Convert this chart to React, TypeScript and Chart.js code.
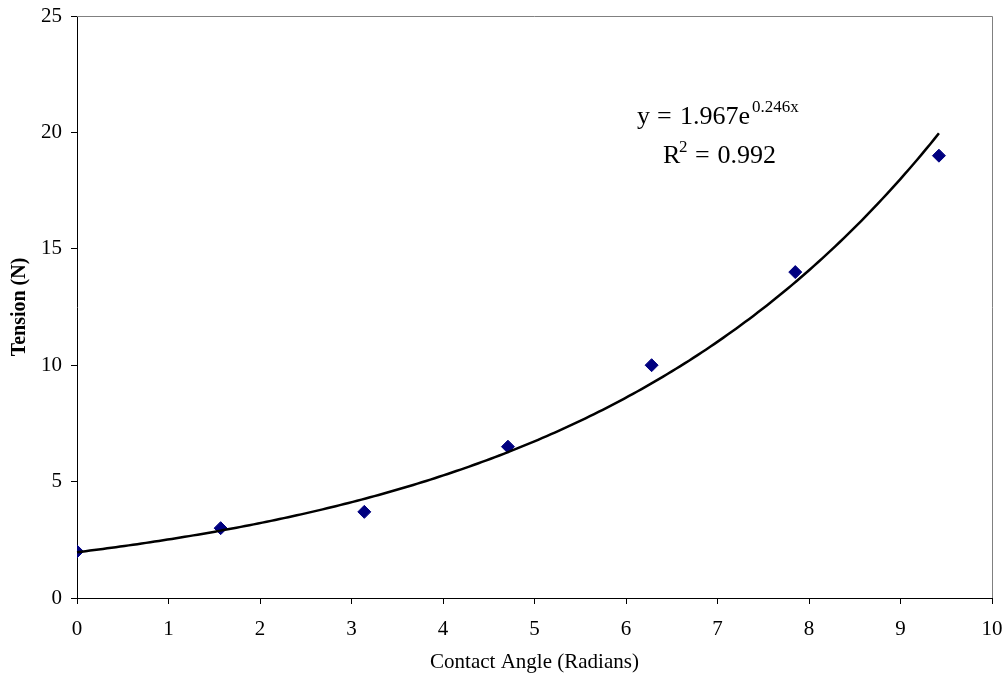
import React, { useEffect, useRef } from "react";
import { Chart, registerables } from "chart.js";

Chart.register(...registerables);

// Data
const contactAngles: number[] = [0, 1.57, 3.14, 4.71, 6.28, 7.85, 9.42];
const tensions: number[] = [2, 3, 3.7, 6.5, 10, 14, 19];

// Exponential trendline as printed on the chart: y = a * e^(b x)
const trendA = 1.967;
const trendB = 0.246;
const trendR2 = "0.992";

const xTitle = "Contact Angle (Radians)";
const yTitle = "Tension (N)";

const SERIF = '"Liberation Serif", "Times New Roman", serif';

export default function App() {
  const canvasRef = useRef<HTMLCanvasElement | null>(null);

  useEffect(() => {
    const canvas = canvasRef.current;
    if (!canvas) return;

    const framePlugin = {
      id: "frame",
      afterDraw(chart: any) {
        const { ctx, chartArea } = chart;
        ctx.save();
        ctx.strokeStyle = "#808080";
        ctx.lineWidth = 1;
        ctx.beginPath();
        ctx.moveTo(chartArea.left, chartArea.top + 0.5);
        ctx.lineTo(chartArea.right + 0.5, chartArea.top + 0.5);
        ctx.lineTo(chartArea.right + 0.5, chartArea.bottom);
        ctx.stroke();
        ctx.restore();
      },
    };

    const trendPlugin = {
      id: "trend",
      afterDatasetsDraw(chart: any) {
        const { ctx, scales } = chart;
        const xs = scales.x;
        const ys = scales.y;
        const xMin = Math.min(...contactAngles);
        const xMax = Math.max(...contactAngles);
        const steps = 200;
        ctx.save();
        ctx.strokeStyle = "#000000";
        ctx.lineWidth = 2.5;
        ctx.lineJoin = "round";
        ctx.beginPath();
        for (let i = 0; i <= steps; i++) {
          const xv = xMin + ((xMax - xMin) * i) / steps;
          const yv = trendA * Math.exp(trendB * xv);
          const px = xs.getPixelForValue(xv);
          const py = ys.getPixelForValue(yv);
          if (i === 0) ctx.moveTo(px, py);
          else ctx.lineTo(px, py);
        }
        ctx.stroke();

        // Equation label
        ctx.fillStyle = "#000000";
        ctx.textBaseline = "alphabetic";
        ctx.font = `26px ${SERIF}`;
        ctx.textAlign = "left";
        ctx.fillText("y", 637, 124);
        ctx.fillText("=", 657, 124);
        const coef = `${trendA.toFixed(3)}e`;
        ctx.fillText(coef, 680, 124);
        const coefW = ctx.measureText(coef).width;
        ctx.font = `17px ${SERIF}`;
        ctx.fillText(`${trendB.toFixed(3)}x`, 680 + coefW + 2, 112);

        ctx.font = `26px ${SERIF}`;
        ctx.textAlign = "left";
        ctx.fillText("R", 663, 163);
        ctx.fillText("=", 695, 163);
        ctx.textAlign = "right";
        ctx.fillText(trendR2, 776, 163);
        ctx.textAlign = "left";
        ctx.font = `17px ${SERIF}`;
        ctx.fillText("2", 679, 152);
        ctx.restore();
      },
    };

    const chart = new Chart(canvas, {
      type: "scatter",
      data: {
        datasets: [
          {
            label: "Tension",
            data: contactAngles.map((x, i) => ({ x, y: tensions[i] })),
            pointStyle: "rectRot",
            pointRadius: 6.5,
            pointBackgroundColor: "#000080",
            pointBorderColor: "#000080",
            pointBorderWidth: 1,
            showLine: false,
          },
        ],
      },
      options: {
        responsive: false,
        animation: false,
        layout: { padding: { left: 0, right: 11, top: 16, bottom: 0 } },
        plugins: {
          legend: { display: false },
          tooltip: { enabled: false },
        },
        scales: {
          x: {
            type: "linear",
            min: 0,
            max: 10,
            afterFit(scale: any) {
              scale.height = 79;
              scale.paddingLeft = 0;
              scale.paddingRight = 0;
            },
            ticks: {
              stepSize: 1,
              color: "#000000",
              padding: 13,
              font: { family: SERIF, size: 21 },
              maxRotation: 0,
            },
            grid: {
              display: true,
              drawOnChartArea: false,
              drawTicks: true,
              tickLength: 6,
              color: "#000000",
            },
            border: { display: true, color: "#000000", width: 1 },
            title: {
              display: true,
              text: xTitle,
              color: "#000000",
              font: { family: SERIF, size: 21 },
              padding: { top: 0, bottom: 2 },
            },
          },
          y: {
            type: "linear",
            min: 0,
            max: 25,
            afterFit(scale: any) {
              scale.width = 77;
              scale.paddingTop = 0;
              scale.paddingBottom = 0;
            },
            ticks: {
              stepSize: 5,
              color: "#000000",
              padding: 9,
              font: { family: SERIF, size: 21 },
            },
            grid: {
              display: true,
              drawOnChartArea: false,
              drawTicks: true,
              tickLength: 6,
              color: "#000000",
            },
            border: { display: true, color: "#000000", width: 1 },
            title: {
              display: true,
              text: yTitle,
              color: "#000000",
              font: { family: SERIF, size: 20, weight: "bold" },
              padding: { top: 8, bottom: 0 },
            },
          },
        },
      },
      plugins: [framePlugin, trendPlugin],
    } as any);

    return () => {
      chart.destroy();
    };
  }, []);

  return (
    <div
      style={{
        position: "absolute",
        left: 0,
        top: 0,
        width: 1003,
        height: 677,
        background: "#ffffff",
      }}
    >
      <canvas ref={canvasRef} width={1003} height={677} />
    </div>
  );
}
